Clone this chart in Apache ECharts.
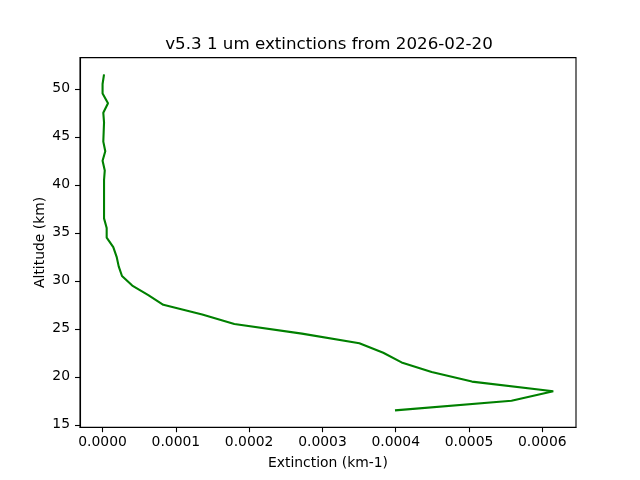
<!DOCTYPE html>
<html>
<head>
<meta charset="utf-8">
<script src="https://cdn.jsdelivr.net/npm/echarts@6/dist/echarts.min.js"></script>
<style>html,body{margin:0;padding:0;background:#fff}#c{width:640px;height:480px}</style>
</head>
<body>
<div id="c"></div>
<script>
var altitudes = [16.5,17.5,18.5,19.5,20.5,21.5,22.5,23.5,24.5,25.5,26.5,27.5,28.5,29.5,30.5,31.5,32.5,33.5,34.5,35.5,36.5,37.5,38.5,39.5,40.5,41.5,42.5,43.5,44.5,45.5,46.5,47.5,48.5,49.5,50.5,51.5];
var extinction = [0.000399,0.000558,0.000615,0.000504,0.000449,0.000408,0.000383,0.0003504,0.000272,0.0001798,0.000136,0.0000829,0.0000624,0.0000405,0.0000265,0.000022,0.0000192,0.0000146,0.0000056,0.0000056,0.000002,0.000002,0.000002,0.000002,0.000002,0.000003,0.0,0.0000037,0.000001,0.0000015,0.000002,0.000001,0.0000074,0.0,0.0,0.000002];
var xTicks = [0,0.0001,0.0002,0.0003,0.0004,0.0005,0.0006];
var yTicks = [15,20,25,30,35,40,45,50];
var titleText = 'v5.3 1 um extinctions from 2026-02-20';
var xName = 'Extinction (km-1)';
var yName = 'Altitude (km)';

var pts = altitudes.map(function(a,i){return [extinction[i], a];});
var font = 'DejaVu Sans';
var chart = echarts.init(document.getElementById('c'), null, {renderer:'canvas'});
chart.setOption({
  animation:false,
  backgroundColor:'#fff',
  title:{text:titleText,left:324,textAlign:'center',top:31.5,
    textStyle:{fontFamily:font,fontSize:16.7,fontWeight:'normal',color:'#000'}},
  grid:{left:80,right:64,top:57.6,bottom:52.8,show:true,borderColor:'#000',borderWidth:1.1,backgroundColor:'transparent'},
  xAxis:{type:'value',min:-0.0000308,max:0.000646,
    name:xName,nameLocation:'middle',nameGap:29,nameMoveOverlap:false,
    nameTextStyle:{fontFamily:font,fontSize:13.9,color:'#000'},
    axisLine:{show:true,onZero:false,lineStyle:{color:'#000',width:1.1}},
    axisTick:{show:true,inside:false,length:5,customValues:xTicks,lineStyle:{color:'#000',width:1.1}},
    axisLabel:{show:true,customValues:xTicks,margin:8,fontFamily:font,fontSize:13.9,color:'#000',
      formatter:function(v){return v.toFixed(4);}},
    splitLine:{show:false}},
  yAxis:{type:'value',min:14.75,max:53.25,
    name:yName,nameLocation:'middle',nameGap:33,nameRotate:90,nameMoveOverlap:false,
    nameTextStyle:{fontFamily:font,fontSize:13.9,color:'#000'},
    axisLine:{show:true,onZero:false,lineStyle:{color:'#000',width:1.1}},
    axisTick:{show:true,inside:false,length:5,customValues:yTicks,lineStyle:{color:'#000',width:1.1}},
    axisLabel:{show:true,customValues:yTicks,margin:10,fontFamily:font,fontSize:13.9,color:'#000'},
    splitLine:{show:false}},
  series:[{type:'line',data:pts,showSymbol:false,symbol:'none',
    lineStyle:{color:'#008000',width:2.1},itemStyle:{color:'#008000'}}]
});
</script>
</body>
</html>
